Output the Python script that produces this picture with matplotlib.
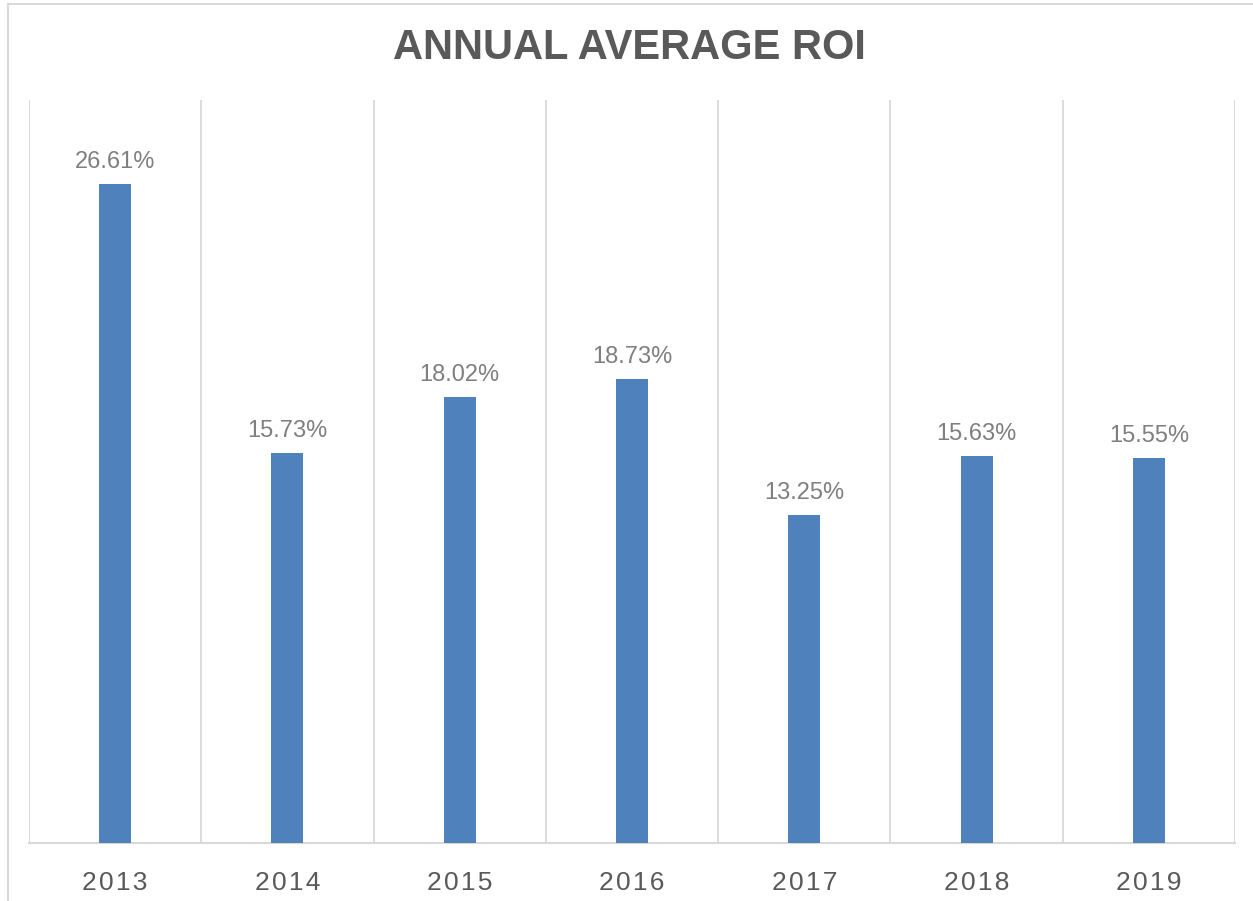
import numpy as np
import matplotlib; matplotlib.use("Agg")
import matplotlib.pyplot as plt
from matplotlib.lines import Line2D

years = ["2013", "2014", "2015", "2016", "2017", "2018", "2019"]
roi = [26.61, 15.73, 18.02, 18.73, 13.25, 15.63, 15.55]

plt.rcParams["font.family"] = ["Liberation Sans", "DejaVu Sans"]
W, H = 1253, 901
fig = plt.figure(figsize=(W/100, H/100), dpi=100)
ax = fig.add_axes([29/W, 1-843/H, (1235-29)/W, (843-100)/H])

x = np.arange(len(years))
ax.bar(x, roi, width=0.186, color="#4f81bd", zorder=3)
for xi, v in zip(x, roi):
    ax.annotate(f"{v:.2f}%", (xi, v), xytext=(0, 8), textcoords="offset points",
                ha="center", va="bottom", fontsize=17, color="#7f7f7f")

ax.set_xlim(-0.5, len(years)-0.5)
ax.set_ylim(0, 30)
ax.set_xticks(x)
# letter-spaced year labels (hair spaces)
ax.set_xticklabels(["\u200a".join(y) for y in years], fontsize=19, color="#595959")
ax.tick_params(axis="x", length=0, pad=20)
ax.set_yticks([])
for b in np.arange(-0.5, len(years), 1.0):
    ax.axvline(b, color="#d9d9d9", lw=1.3, zorder=1)
for s in ["top", "right", "left"]:
    ax.spines[s].set_visible(False)
ax.spines["bottom"].set_color("#d9d9d9")
ax.spines["bottom"].set_linewidth(1.5)

fig.text(629/W, 1-48/H, "ANNUAL AVERAGE ROI", ha="center", va="center",
         fontsize=30, fontweight="bold", color="#595959")

# light outer chart border (top and left)
fig.add_artist(Line2D([8/W, 1], [1-4/H, 1-4/H], color="#d9d9d9", lw=1.5))
fig.add_artist(Line2D([8/W, 8/W], [0, 1-4/H], color="#d9d9d9", lw=1.5))

fig.savefig("out.png", dpi=100)
